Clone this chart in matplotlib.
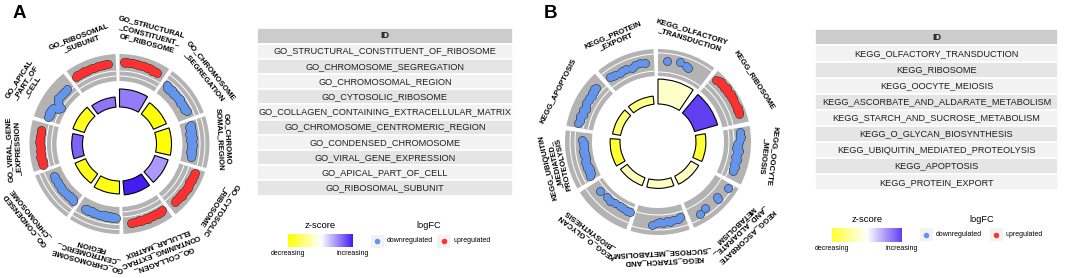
"""GOCircle-style enrichment figure: GO terms (A) and KEGG pathways (B)."""

import numpy as np
import matplotlib

matplotlib.use("Agg")
import matplotlib.pyplot as plt
from matplotlib.colors import LinearSegmentedColormap, Normalize
from matplotlib.patches import Rectangle

W, H = 1065, 278
FONT = "Liberation Sans"
GREY = "#B3B3B3"
BLUE, RED = "#6495ED", "#FF3030"
CMAP = LinearSegmentedColormap.from_list("z", ["#FFFF00", "#FFFFFF", "#3A12F0"])
NORM = Normalize(-4, 4)

# ---------------- panel A : GO terms ----------------
A_IDS = [
    "GO_STRUCTURAL_CONSTITUENT_OF_RIBOSOME", "GO_CHROMOSOME_SEGREGATION",
    "GO_CHROMOSOMAL_REGION", "GO_CYTOSOLIC_RIBOSOME",
    "GO_COLLAGEN_CONTAINING_EXTRACELLULAR_MATRIX", "GO_CHROMOSOME_CENTROMERIC_REGION",
    "GO_CONDENSED_CHROMOSOME", "GO_VIRAL_GENE_EXPRESSION",
    "GO_APICAL_PART_OF_CELL", "GO_RIBOSOMAL_SUBUNIT",
]
A_LABELS = [
    "GO_STRUCTURAL\n_CONSTITUENT_\nOF_RIBOSOME", "GO_CHROMOSOME\n_SEGREGATION",
    "GO_CHROMO\nSOMAL_REGION", "GO_CYTOSOLIC\n_RIBOSOME",
    "GO_COLLAGEN_\nCONTAINING_EXTRAC\nELLULAR_MATRIX", "GO_CHROMOSOME\n_CENTROMERIC_\nREGION",
    "GO_CONDENSED\n_CHROMOSOME", "GO_VIRAL_GENE\n_EXPRESSION",
    "GO_APICAL\n_PART_OF\n_CELL", "GO_RIBOSOMAL\n_SUBUNIT",
]
A_NEGLOGP = [6.0, 4.7, 5.0, 4.7, 4.7, 4.3, 3.8, 3.6, 4.0, 3.4]
A_ZSCORE = [2.2, -3.9, -4.0, 1.7, 3.8, -3.7, -3.6, 2.6, -3.5, 2.3]
A_UP = [True, False, False, True, True, False, False, True, False, True]
A_LFC = [
    [0.72, 0.64, 0.75, 0.6, 0.68, 0.7, 0.58, 0.66, 0.62, 0.7, 0.55, 0.63, 0.6, 0.52, 0.62, 0.55, 0.5, 0.58, 0.48, 0.53],
    [-0.2, -0.45, -0.3, -0.5, -0.25, -0.4, -0.55, -0.3, -0.45, -0.35, -0.5, -0.3, -0.4, -0.55, -0.35, -0.45, -0.3, -0.5, -0.4, -0.35],
    [-0.45, -0.8, -0.55, -0.75, -0.5, -0.9, -0.6, -0.7, -0.45, -0.85, -0.6, -0.75, -0.5, -0.85, -0.6, -0.55, -0.8, -0.5, -0.7, -0.6],
    [0.6, 0.45, 0.55, 0.4, 0.62, 0.5, 0.35, 0.55, 0.45, 0.6, 0.4, 0.5, 0.55, 0.42, 0.6, 0.48, 0.38, 0.52, 0.45, 0.5],
    [0.2, 0.35, 0.25, 0.4, 0.3, 0.22, 0.38, 0.28, 0.32, 0.42, 0.25, 0.35, 0.3, 0.4, 0.28, 0.36, 0.45, 0.3, 0.38, 0.42],
    [-0.45, -0.55, -0.4, -0.6, -0.5, -0.45, -0.58, -0.48, -0.52, -0.4, -0.55, -0.5, -0.45, -0.6, -0.5, -0.42, -0.55, -0.48],
    [-0.5, -0.65, -0.55, -0.7, -0.5, -0.6, -0.68, -0.55, -0.62, -0.5, -0.7, -0.58, -0.52, -0.65, -0.6, -0.55, -0.7, -0.6],
    [0.3, 0.45, 0.25, 0.4, 0.5, 0.3, 0.35, 0.45, 0.28, 0.4, 0.32, 0.48, 0.3, 0.38, 0.42, 0.3, 0.36, 0.44],
    [-0.1, -0.2, -0.05, -0.15, -0.1, -0.25, -0.9, -1.2, -0.8, -0.3, -0.15, -0.05, -0.2, -0.1, -0.15, -0.05, -0.2, -0.1],
    [0.35, 0.5, 0.4, 0.55, 0.45, 0.6, 0.4, 0.5, 0.45, 0.55, 0.4, 0.5, 0.6, 0.45, 0.5, 0.42, 0.55, 0.48],
]
A_POS = [None] * 10

# ---------------- panel B : KEGG pathways ----------------
B_IDS = [
    "KEGG_OLFACTORY_TRANSDUCTION", "KEGG_RIBOSOME", "KEGG_OOCYTE_MEIOSIS",
    "KEGG_ASCORBATE_AND_ALDARATE_METABOLISM", "KEGG_STARCH_AND_SUCROSE_METABOLISM",
    "KEGG_O_GLYCAN_BIOSYNTHESIS", "KEGG_UBIQUITIN_MEDIATED_PROTEOLYSIS",
    "KEGG_APOPTOSIS", "KEGG_PROTEIN_EXPORT",
]
B_LABELS = [
    "KEGG_OLFACTORY\n_TRANSDUCTION", "KEGG_RIBOSOME", "KEGG_OOCYTE\n_MEIOSIS",
    "KEGG_ASCORBATE\n_AND_ALDARATE_\nMETABOLISM", "KEGG_STARCH_AND\n_SUCROSE_METABOLISM",
    "KEGG_O_GLYCAN\n_BIOSYNTHESIS", "KEGG_UBIQUITIN\n_MEDIATED_\nPROTEOLYSIS",
    "KEGG_APOPTOSIS", "KEGG_PROTEIN\n_EXPORT",
]
B_NEGLOGP = [8.3, 8.0, 3.3, 3.0, 2.8, 2.8, 3.3, 2.7, 2.7]
B_ZSCORE = [-0.8, 3.2, -3.1, -1.0, -1.0, -1.1, -3.2, -2.2, -2.0]
B_UP = [False, True, False, False, False, False, False, False, False]
B_LFC = [
    [0.21, 0.5, 0.14, -0.07],
    [0.75, 0.9, 1.0, 0.85, 0.95, 0.8, 1.05, 0.9, 0.85, 1.0, 0.8, 0.95, 0.88, 0.75, 0.9, 0.82, 0.95, 0.78, 0.88, 0.8],
    [0.35, 0.3, 0.4, 0.25, 0.1, -0.15, 0.0, -0.25, 0.15, -0.1, 0.05, -0.2, 0.1, 0.0, -0.15, 0.1, -0.05, 0.05],
    [0.53, 0.09, 0.46, 0.19, 0.49],
    [-0.23, -0.01, -0.07, 0.09, -0.11, 0.13, -0.04, 0.19, 0.46],
    [-0.7, -0.64, -0.74, -0.8, -0.73, -0.6, -0.66, -0.61],
    [-0.6, -0.85, -0.7, -0.9, -0.65, -0.85, -0.75, -0.6, -0.8, -0.95, -0.7, -0.85, -0.65, -0.75, -0.9, -0.7, -0.8, -0.6],
    [0.3, 0.1, 0.2, 0.35, 0.0, 0.15, 0.25, -0.05, 0.1, 0.3, 0.2, 0.05, 0.25, 0.1, 0.35, 0.2, 0.4, 0.3],
    [0.07, 0.0, -0.06, -0.21, -0.1, -0.04, -0.26, 0.06, 0.1, 0.06],
]
B_POS = [
    [0.15, 0.39, 0.51, 0.56], None, None,
    [0.09, 0.33, 0.34, 0.62, 0.74],
    [0.09, 0.13, 0.22, 0.29, 0.34, 0.41, 0.47, 0.52, 0.61],
    [0.05, 0.11, 0.19, 0.27, 0.375, 0.48, 0.57, 0.75],
    None, None,
    [0.085, 0.14, 0.18, 0.27, 0.33, 0.41, 0.51, 0.59, 0.68, 0.77],
]

# layout (px): white guide arcs inside each grey band, and label radii
A_GRID = [(68, 73), (80.5, 85.5), (80.5, 85.5), (68, 73), (68, 73),
          (80.5, 85.5), (80.5, 85.5), (68, 73), (68, 73), (68, 73)]
B_GRID = [(70, 89), (72, 77), (71, 76), (73, 88), (73, 88),
          (70, 86), (83, 88), (71, 76), (71, 88)]
A_LABEL_R = [113, 112.5, 104, 117, 115, 113, 117, 105.5, 111.5, 111]
B_LABEL_R = [111.5, 115, 111, 121, 114, 115, 104.5, 112, 112.5]

RMAX = 125       # polar axes radius in px (1 r-unit = 1 px)
HSCALE = 3.0     # px per -log10(adj. p)
LFC_PX = 7.0     # px per logFC unit

fig = plt.figure(figsize=(W / 100, H / 100), dpi=100)
ax0 = fig.add_axes([0, 0, 1, 1])
ax0.set_axis_off()


def draw_circle(cx, cy, labels, neglogp, zscore, up, lfc, pos, grid, label_r,
                r_in, g_lo, g_hi, r0):
    ax = fig.add_axes([(cx - RMAX) / W, (H - cy - RMAX) / H, 2 * RMAX / W, 2 * RMAX / H],
                      projection="polar")
    ax.set_theta_zero_location("N")
    ax.set_theta_direction(-1)
    ax.set_ylim(0, RMAX)
    ax.set_axis_off()
    n = len(labels)
    wid = 2 * np.pi / n
    starts = np.arange(n) * wid

    ax.bar(starts, g_hi - g_lo, width=wid * 0.93, bottom=g_lo, align="edge",
           color=GREY, linewidth=0)
    for s, (ra, rb) in zip(starts, grid):
        ax.bar([s, s], 1.0, width=wid * 0.93, bottom=[ra - 0.5, rb - 0.5],
               align="edge", color="white", linewidth=0)

    ax.bar(starts, np.array(neglogp) * HSCALE, width=wid * 0.85, bottom=r_in,
           align="edge", color=CMAP(NORM(zscore)), edgecolor="black", linewidth=0.8)

    for s, vals, p, u in zip(starts, lfc, pos, up):
        vals = np.asarray(vals)
        frac = np.linspace(0.08, 0.78, len(vals)) if p is None else np.asarray(p)
        th = s + frac * wid
        rr = r0 + LFC_PX * vals
        ax.scatter(th, rr, s=40, color="#3c3c3c", linewidth=0, zorder=3)
        ax.scatter(th, rr, s=29, color=RED if u else BLUE, linewidth=0, zorder=4)

    for s, lab, rl in zip(starts, labels, label_r):
        th = s + 0.425 * wid
        ax.text(th, rl, lab, rotation=-np.degrees(th), rotation_mode="anchor",
                ha="center", va="center", multialignment="center",
                fontsize=5.6, fontweight="bold", family=FONT, linespacing=1.25)


def draw_table(x0, x1, y0, rowh, ids):
    for i, t in enumerate(["ID"] + ids):
        y = y0 + i * rowh
        fc = "#CCCCCC" if i == 0 else ("#F2F2F2" if i % 2 else "#E5E5E5")
        ax0.add_patch(Rectangle((x0, y), x1 - x0, rowh, facecolor=fc,
                                edgecolor="white", linewidth=1.2))
        ax0.text((x0 + x1) / 2, y + rowh / 2, t, ha="center", va="center",
                 fontsize=6.6, family=FONT, color="#1e1e1e",
                 fontweight="bold" if i == 0 else "normal")


def draw_legend(zx0, zx1, zy0, zy1, ztitle_y, zvals, kx_blue, kx_red, ky, logfc_x):
    ax0.text((zx0 + zx1) / 2, ztitle_y, "z-score", ha="center", va="center",
             fontsize=6.8, family=FONT)
    grad = np.linspace(min(zvals), max(zvals), 200)[None, :]
    ax0.imshow(CMAP(NORM(grad)), extent=[zx0, zx1, zy1, zy0], aspect="auto",
               interpolation="bilinear")
    ax0.text(zx0, zy1 + 6.5, "decreasing", ha="center", va="center", fontsize=5.0, family=FONT)
    ax0.text(zx1, zy1 + 6.5, "increasing", ha="center", va="center", fontsize=5.0, family=FONT)
    ax0.text(logfc_x, ztitle_y, "logFC", ha="center", va="center", fontsize=6.6, family=FONT)
    for kx, col, txt in ((kx_blue, BLUE, "downregulated"), (kx_red, RED, "upregulated")):
        ax0.add_patch(Rectangle((kx - 6.5, ky - 6.5), 13, 13, facecolor="#F2F2F2",
                                edgecolor="none"))
        ax0.scatter([kx], [ky], s=16, color=col, linewidth=0)
        ax0.text(kx + 10, ky, txt, ha="left", va="center", fontsize=5.0, family=FONT)


draw_circle(119.5, 144, A_LABELS, A_NEGLOGP, A_ZSCORE, A_UP, A_LFC, A_POS, A_GRID,
            A_LABEL_R, r_in=37, g_lo=63, g_hi=90, r0=77)
draw_circle(658, 142, B_LABELS, B_NEGLOGP, B_ZSCORE, B_UP, B_LFC, B_POS, B_GRID,
            B_LABEL_R, r_in=38, g_lo=66, g_hi=93, r0=80)

draw_table(257, 513, 28.3, 15.2, A_IDS)
draw_table(815, 1058, 29.3, 16.1, B_IDS)

draw_legend(288, 353, 234, 247, 226, A_ZSCORE, 377, 443.5, 241, 429)
draw_legend(832, 902, 227.7, 241.7, 219.3, B_ZSCORE, 926, 996, 234.7, 982)

ax0.text(19, 14, "A", ha="center", va="center", fontsize=13.5, fontweight="bold", family=FONT)
ax0.text(550.5, 13.5, "B", ha="center", va="center", fontsize=13.5, fontweight="bold", family=FONT)

ax0.set_xlim(0, W)
ax0.set_ylim(H, 0)

fig.savefig("out.png", dpi=100)
